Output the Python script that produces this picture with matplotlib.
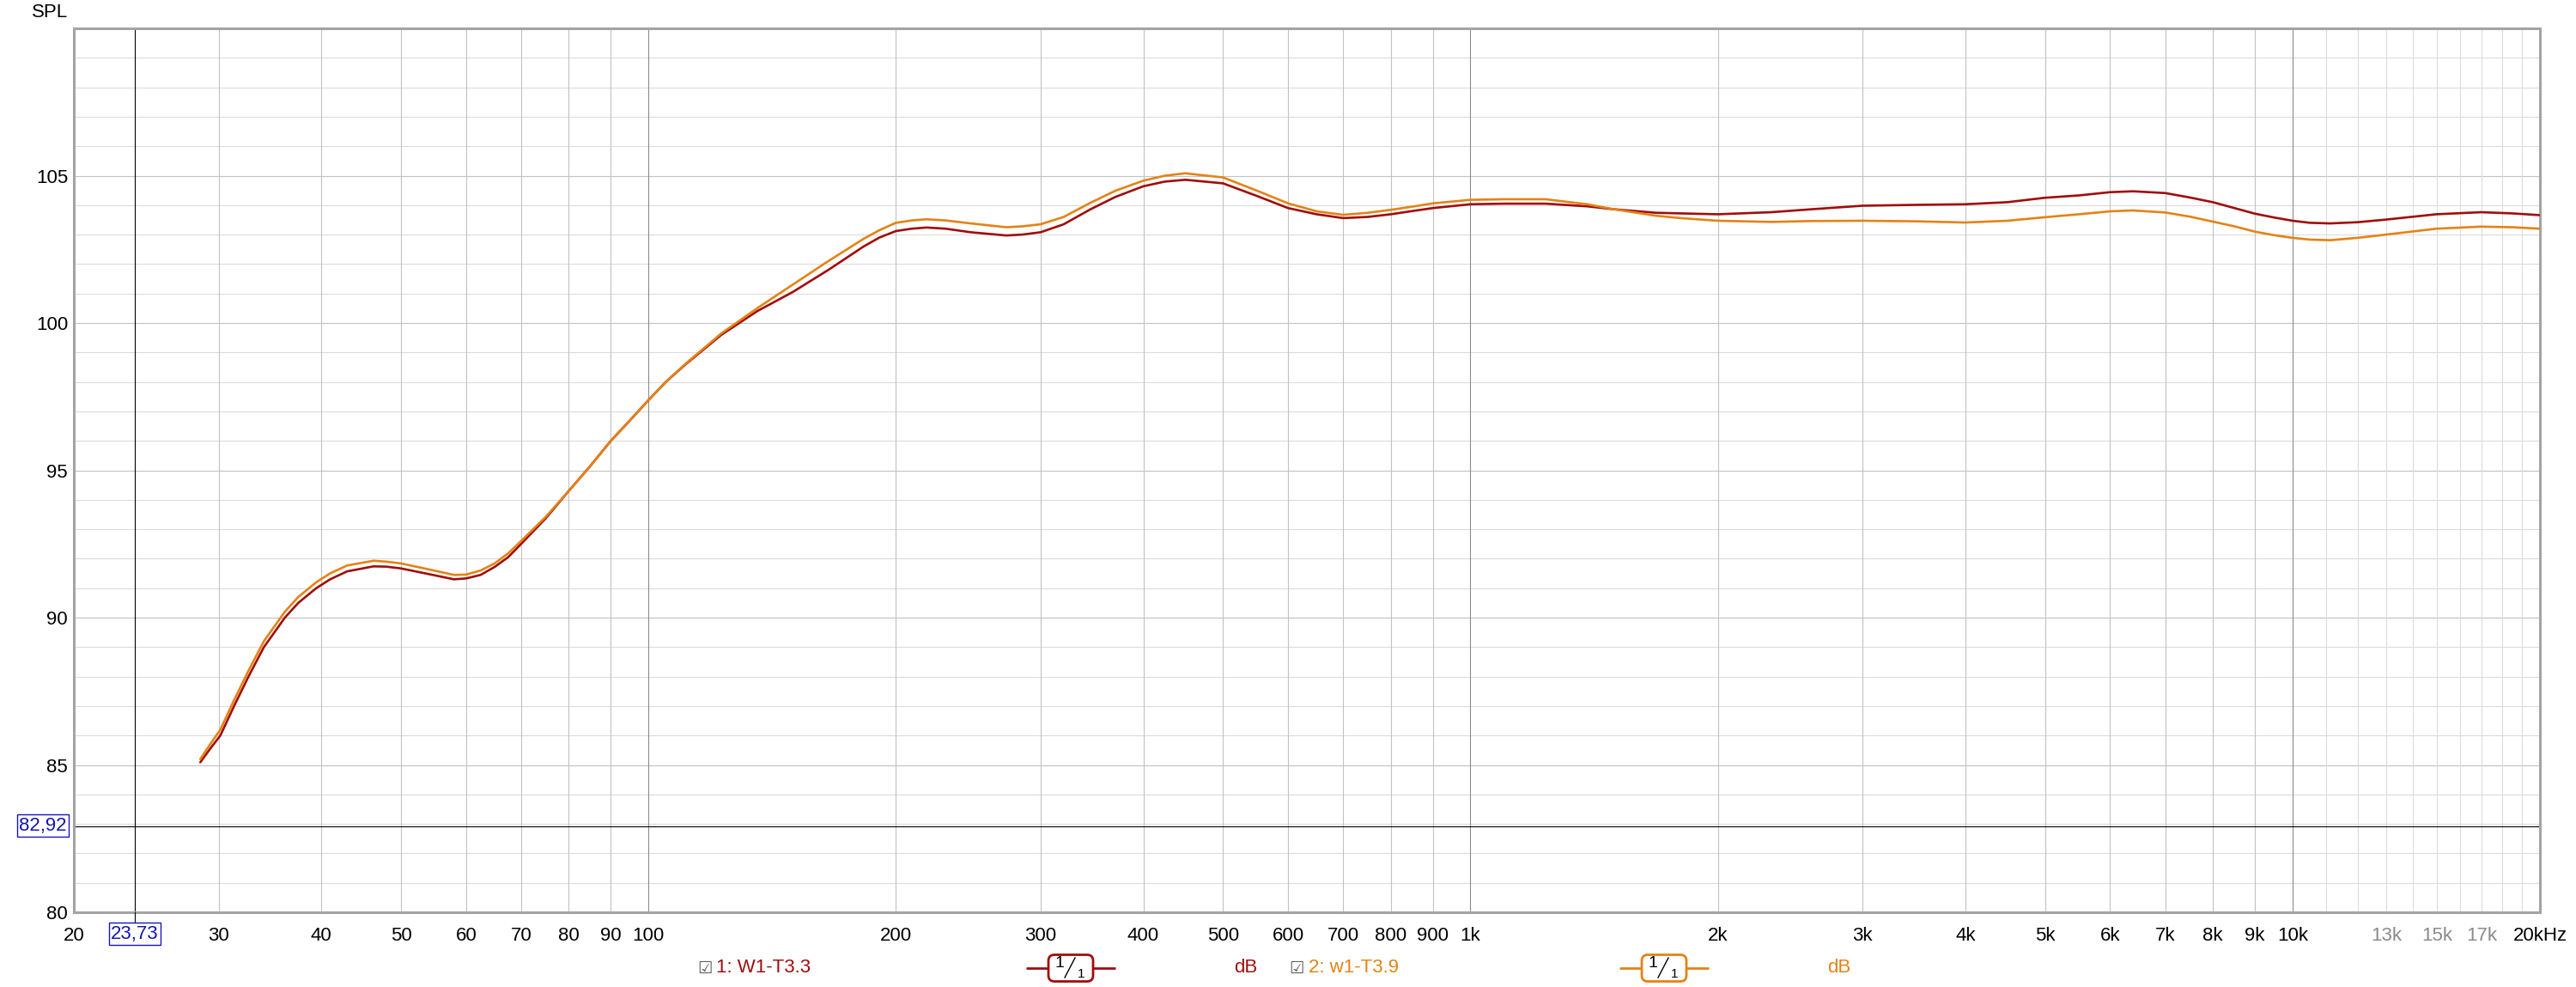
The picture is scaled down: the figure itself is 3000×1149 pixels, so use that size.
import matplotlib
matplotlib.use("Agg")
import matplotlib.pyplot as plt
from matplotlib.patches import FancyBboxPatch

plt.rcParams['font.family'] = ['Liberation Sans', 'DejaVu Sans']

# ---------------- data ----------------
freqs = [28.5, 29.3, 30.15, 31.33, 32.62, 34.06, 36.12, 37.5, 39.44, 41, 43, 46.3, 48, 50,
         54, 58, 60, 62.5, 65, 67.5, 70, 75, 80, 85, 90, 95, 100, 105, 111, 122.7, 135.6,
         149.8, 165.5, 182.8, 191, 200, 209, 218, 230, 246.6, 272.5, 285, 300, 320, 345,
         370, 400, 425, 450, 500, 550, 600, 650, 700, 750, 800, 850, 900, 1000, 1100, 1234,
         1386, 1494, 1682, 1800, 2000, 2321, 2600, 3000, 3500, 4000, 4500, 5000, 5500, 6000,
         6400, 7000, 7500, 8000, 8500, 9000, 9500, 10000, 10500, 11120, 12000, 13000, 14960,
         16960, 18500, 20000]

spl_w1_t33 = [85.09, 85.55, 86.0, 87.0, 88.0, 89.0, 90.0, 90.5, 91.0, 91.3, 91.57, 91.74,
              91.73, 91.67, 91.48, 91.30, 91.33, 91.45, 91.72, 92.05, 92.5, 93.37, 94.3, 95.15,
              96.0, 96.7, 97.38, 98.0, 98.6, 99.6, 100.4, 101.05, 101.8, 102.6, 102.9, 103.12,
              103.2, 103.24, 103.2, 103.08, 102.97, 103.0, 103.08, 103.35, 103.86, 104.28,
              104.64, 104.8, 104.86, 104.74, 104.31, 103.9, 103.69, 103.56, 103.6, 103.69,
              103.8, 103.9, 104.03, 104.05, 104.05, 103.96, 103.86, 103.74, 103.72, 103.69,
              103.76, 103.86, 103.98, 104.01, 104.03, 104.1, 104.25, 104.33, 104.44, 104.47,
              104.41, 104.26, 104.1, 103.9, 103.71, 103.58, 103.47, 103.4, 103.38, 103.42,
              103.51, 103.69, 103.76, 103.72, 103.66]

spl_w1_t39 = [85.2, 85.7, 86.2, 87.2, 88.2, 89.2, 90.2, 90.7, 91.2, 91.5, 91.77, 91.93,
              91.9, 91.84, 91.64, 91.45, 91.46, 91.6, 91.84, 92.18, 92.6, 93.42, 94.3, 95.15,
              96.0, 96.7, 97.38, 98.0, 98.62, 99.65, 100.5, 101.3, 102.1, 102.86, 103.15, 103.4,
              103.48, 103.52, 103.48, 103.38, 103.25, 103.28, 103.35, 103.6, 104.08, 104.49,
              104.83, 105.0, 105.08, 104.94, 104.49, 104.06, 103.79, 103.67, 103.74, 103.84,
              103.95, 104.06, 104.18, 104.2, 104.2, 104.03, 103.86, 103.64, 103.56, 103.47,
              103.43, 103.46, 103.47, 103.45, 103.41, 103.47, 103.59, 103.69, 103.79, 103.82,
              103.75, 103.61, 103.44, 103.28, 103.1, 102.98, 102.89, 102.83, 102.81, 102.89,
              103.0, 103.2, 103.27, 103.25, 103.2]

series_names = ["1: W1-T3.3", "2: w1-T3.9"]

xtick_values = [20, 30, 40, 50, 60, 70, 80, 90, 100, 200, 300, 400, 500, 600, 700, 800, 900,
                1000, 2000, 3000, 4000, 5000, 6000, 7000, 8000, 9000, 10000, 13000, 15000,
                17000, 20000]
xtick_labels = ['20', '30', '40', '50', '60', '70', '80', '90', '100', '200', '300', '400',
                '500', '600', '700', '800', '900', '1k', '2k', '3k', '4k', '5k', '6k', '7k',
                '8k', '9k', '10k', '13k', '15k', '17k', '20kHz']
ytick_values = [80, 85, 90, 95, 100, 105]

cursor_freq = 23.73
cursor_spl = 82.92

# ---------------- styling ----------------
RED = '#a00d0d'
ORANGE = '#e38316'
W, H = 3000, 1149

fig = plt.figure(figsize=(W / 100, H / 100), dpi=100)
fig.patch.set_facecolor('white')
ax = fig.add_axes([86 / W, 1 - 1062 / H, (2958 - 86) / W, (1062 - 33) / H])
ax.set_xscale('log')
ax.set_xlim(20, 20000)
ax.set_ylim(80, 110)

# grid lines
for db in range(81, 110):
    c = '#c2c2c2' if db % 5 == 0 else '#dcdcdc'
    ax.axhline(db, color=c, lw=0.8, zorder=1)

for d in [10, 100, 1000, 10000]:
    for m in range(1, 10):
        f = d * m
        if f <= 20 or f >= 20000:
            continue
        if m == 1:
            c = '#8c8c8c'
        elif f > 10000:
            c = '#dcdcdc'
        else:
            c = '#c2c2c2'
        ax.axvline(f, color=c, lw=0.8, zorder=1)
for f in range(11000, 20000, 1000):
    ax.axvline(f, color='#dcdcdc', lw=0.8, zorder=1)

# cursor
ax.axhline(cursor_spl, color='black', lw=0.8, zorder=2)
ax.axvline(cursor_freq, color='black', lw=0.8, zorder=2)

# curves
ax.plot(freqs, spl_w1_t33, color=RED, lw=1.9, zorder=4,
        solid_capstyle='round', solid_joinstyle='round')
ax.plot(freqs, spl_w1_t39, color=ORANGE, lw=1.9, zorder=5,
        solid_capstyle='round', solid_joinstyle='round')

# ticks
ax.set_xticks(xtick_values)
ax.set_xticklabels(xtick_labels)
ax.xaxis.set_minor_locator(matplotlib.ticker.NullLocator())
ax.set_yticks(ytick_values)
ax.set_yticklabels([str(v) for v in ytick_values])
ax.tick_params(axis='both', length=0, labelsize=16, colors='black')
ax.tick_params(axis='x', pad=12)
ax.tick_params(axis='y', pad=5)
for lbl in ax.get_xticklabels():
    if lbl.get_text() in ('13k', '15k', '17k'):
        lbl.set_color('#8a8a8a')

for s in ax.spines.values():
    s.set_color('#a4a4a4')
    s.set_linewidth(2.2)

# ---------------- overlay (pixel coordinates) ----------------
ov = fig.add_axes([0, 0, 1, 1], zorder=10)
ov.set_xlim(0, W)
ov.set_ylim(H, 0)
ov.axis('off')
ov.patch.set_alpha(0)

ov.text(37, 15, 'SPL', fontsize=16, ha='left', va='center', color='black')

# cursor value boxes
box_kw = dict(boxstyle='square,pad=0.12', fc='white', ec='#1515c0', lw=1.0)
ov.text(50, 961, '82,92', fontsize=16, ha='center', va='center', color='#1515b0', bbox=box_kw)
ov.text(157, 1087, '23,73', fontsize=16, ha='center', va='center', color='#1515b0', bbox=box_kw)
ov.plot([157, 157], [1062, 1073], color='black', lw=0.8)

# legend row
ly = 1127


def legend_item(x_chk, x_txt, name, color, x_line0, x_line1, x_box0, x_box1, x_db):
    ov.text(x_chk, ly, '\u2611', fontsize=14, ha='center', va='center', color='#5a5a5a',
            family=['DejaVu Sans'])
    ov.text(x_txt, ly, name, fontsize=16, ha='left', va='center', color=color)
    ov.plot([x_line0, x_line1], [ly, ly], color=color, lw=2.0, solid_capstyle='butt')
    bw = x_box1 - x_box0
    box = FancyBboxPatch((x_box0, ly - 15.5), bw, 31,
                         boxstyle='round,pad=0,rounding_size=7',
                         fc='white', ec=color, lw=2.0, zorder=3)
    ov.add_patch(box)
    ov.text(x_box0 + 13, ly - 5, '1', fontsize=14, ha='center', va='center', color='black',
            zorder=4)
    ov.plot([x_box0 + 19, x_box0 + 31], [ly + 11, ly - 12], color='black', lw=1.0, zorder=4)
    ov.text(x_box0 + 38, ly + 7, '1', fontsize=11, ha='center', va='center', color='black',
            zorder=4)
    ov.text(x_db, ly, 'dB', fontsize=16, ha='left', va='center', color=color)


legend_item(821, 834, series_names[0], RED, 1195, 1299, 1221, 1273, 1437)
legend_item(1510, 1524, series_names[1], ORANGE, 1886, 1990, 1912, 1964, 2128)

fig.savefig('out.png', dpi=100, facecolor='white')
